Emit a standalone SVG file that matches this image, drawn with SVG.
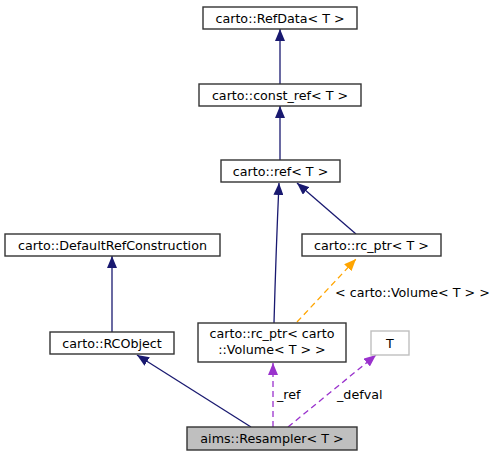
<svg xmlns="http://www.w3.org/2000/svg" width="498" height="459" viewBox="0 0 498 459">
<style>
.box{fill:#ffffff;stroke:#333333;stroke-width:1.4}
.cur{fill:#bfbfbf;stroke:#333333;stroke-width:1.4}
.ext{fill:#ffffff;stroke:#bfbfbf;stroke-width:1.4}
text{font-family:"DejaVu Sans",sans-serif;font-size:12.7px;fill:#000000;text-anchor:middle}
.lbl{text-anchor:start}
.inh{fill:none;stroke:#191970;stroke-width:1.3}
.tpl{fill:none;stroke:#ffa500;stroke-width:1.3;stroke-dasharray:6,4}
.use{fill:none;stroke:#9a32cd;stroke-width:1.3;stroke-dasharray:6,4}
</style>
<defs>
<marker id="aInh" markerUnits="userSpaceOnUse" markerWidth="12" markerHeight="10" refX="12" refY="5" orient="auto"><path d="M0,0 L12,5 L0,10 z" fill="#191970"/></marker>
<marker id="aTpl" markerUnits="userSpaceOnUse" markerWidth="12" markerHeight="10" refX="12" refY="5" orient="auto"><path d="M0,0 L12,5 L0,10 z" fill="#ffa500"/></marker>
<marker id="aUse" markerUnits="userSpaceOnUse" markerWidth="12" markerHeight="10" refX="12" refY="5" orient="auto"><path d="M0,0 L12,5 L0,10 z" fill="#9a32cd"/></marker>
</defs>
<g id="connectors">
<path class="inh" d="M280,84 L280,29" marker-end="url(#aInh)"/>
<path class="inh" d="M280,160 L280,106" marker-end="url(#aInh)"/>
<path class="inh" d="M356,234 L297,183" marker-end="url(#aInh)"/>
<path class="inh" d="M274,323 Q276,250 279,183" marker-end="url(#aInh)"/>
<path class="inh" d="M112,332 L112,256" marker-end="url(#aInh)"/>
<path class="tpl" d="M297,322 L356,259" marker-end="url(#aTpl)"/>
<path class="inh" d="M251,427 L137,355" marker-end="url(#aInh)"/>
<path class="use" d="M273,427 L273,363" marker-end="url(#aUse)"/>
<path class="use" d="M288,427 L376,355" marker-end="url(#aUse)"/>
<text class="lbl" x="335" y="297">&lt; carto::Volume&lt; T &gt; &gt;</text>
<text class="lbl" x="277" y="399">_ref</text>
<text class="lbl" x="337" y="399">_defval</text>
</g>
<g id="node-refdata"><rect class="box" x="203" y="7" width="154" height="22"/><text x="280" y="22.5">carto::RefData&lt; T &gt;</text></g>
<g id="node-constref"><rect class="box" x="199" y="84" width="162" height="22"/><text x="280" y="99.5">carto::const_ref&lt; T &gt;</text></g>
<g id="node-ref"><rect class="box" x="221" y="160" width="119" height="22"/><text x="280.5" y="175.5">carto::ref&lt; T &gt;</text></g>
<g id="node-defaultrefconstruction"><rect class="box" x="5" y="234" width="215" height="22"/><text x="112.5" y="249.5">carto::DefaultRefConstruction</text></g>
<g id="node-rcptr"><rect class="box" x="302" y="234" width="139" height="22"/><text x="371.5" y="249.5">carto::rc_ptr&lt; T &gt;</text></g>
<g id="node-rcobject"><rect class="box" x="50" y="332" width="124" height="22"/><text x="112" y="347.5">carto::RCObject</text></g>
<g id="node-rcptr-volume"><rect class="box" x="198" y="323" width="148" height="39"/><text x="272" y="338">carto::rc_ptr&lt; carto</text><text x="272" y="354">::Volume&lt; T &gt; &gt;</text></g>
<g id="node-t"><rect class="ext" x="371" y="331" width="38" height="24"/><text x="390" y="347.5">T</text></g>
<g id="node-resampler"><rect class="cur" x="187" y="427" width="170" height="23"/><text x="272" y="443">aims::Resampler&lt; T &gt;</text></g>
</svg>
